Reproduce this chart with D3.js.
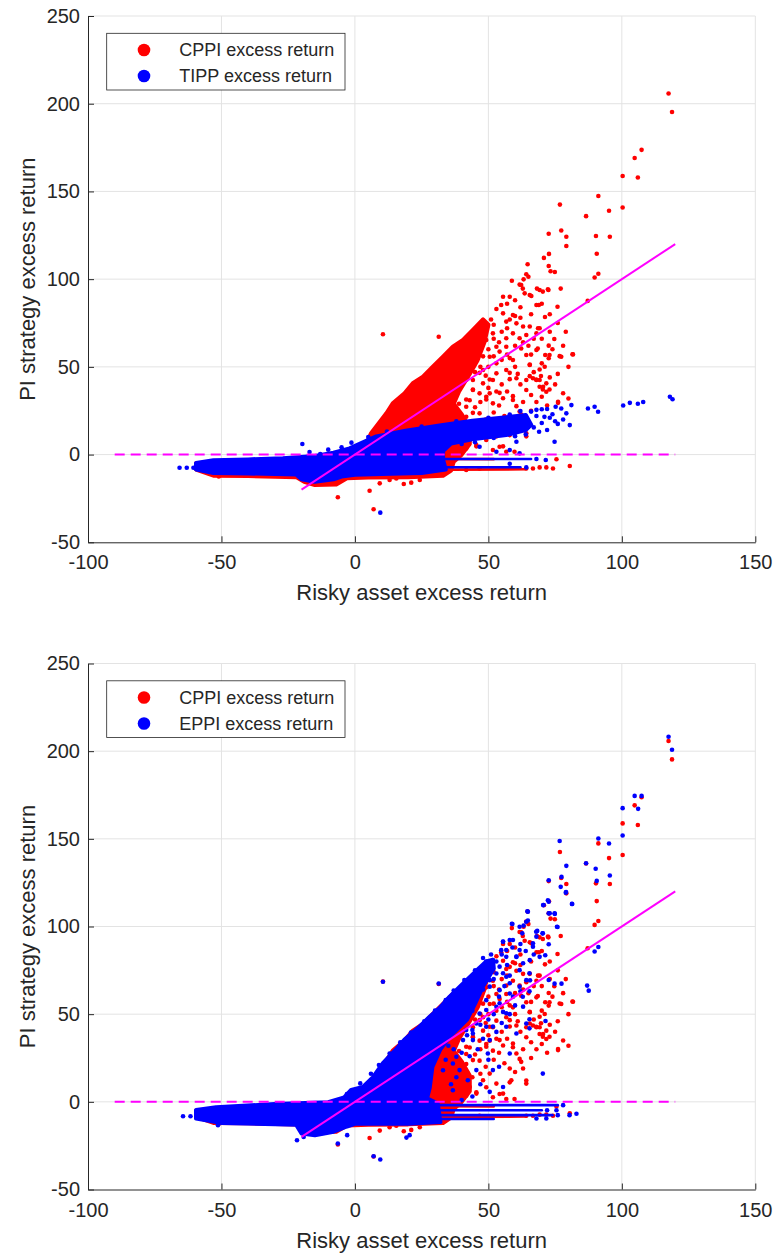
<!DOCTYPE html>
<html><head><meta charset="utf-8">
<script src="https://cdn.jsdelivr.net/npm/d3@7"></script>
<style>body{margin:0;background:#fff;} svg{display:block;font-family:"Liberation Sans",Arial,Helvetica,sans-serif;}</style>
</head><body><svg id="c" width="775" height="1253"></svg>
<script>
// ---------- axes / labels ----------
const xTicks=[-100,-50,0,50,100,150];
const yTicks=[-50,0,50,100,150,200,250];
const xLabel="Risky asset excess return";
const yLabel="PI strategy excess return";
const legend1=["CPPI excess return","TIPP excess return"];
const legend2=["CPPI excess return","EPPI excess return"];
const refLine=[[-20,-20],[120,120]];
const zeroLine=[[-90,0],[120,0]];

// ---------- CPPI (red, same data in both panels) ----------
// outline of the solid, fully overlapping part of the cloud
const cppiDense=[[
[-59.5,-5],[-45,-3.6],[-30,-3],[-15,-1.8],[-5,-0.5],[0,1],[4,5],[6,12],[11.8,23.5],[14.2,29.2],[18.6,34.9],[21.7,40.6],[25.5,44.4],[29.2,50.1],[33,55.8],[36.7,61.5],[40.5,65.3],[44.2,71],[48,77],[50,74],[48.5,64],[46,54],[43,46],[39,36],[37,29],[40,23],[43,15],[43,6],[40,0],[37,-4],[36,-9],[33,-12],[20,-12.8],[5,-13],[-3,-13.5],[-7,-17],[-15,-17.3],[-19,-15.5],[-22,-12.8],[-40,-12.2],[-53,-12],[-59.5,-8.5]
]];
// rows of touching dots
const cppiRows=[[[36,-8.6],[64,-8.4]],[[34,-2.5],[52,-2.6]]];
const cppiPoints=[
[117.5,205.8],[118.8,195.3],[107.4,173.7],[104.8,169.1],[106,157.9],[100.3,158.8],[100.3,140.8],[91.2,147.4],[95.2,139],[86.6,135.9],[76.8,142.5],[77.3,127.7],[79.2,124.2],[79.2,118.9],[72.6,125.9],[90.3,124.6],[95.5,124.2],[90.6,114.5],[91.2,103.1],[89.8,100.9],[70.8,112.1],[72.7,114.4],[72.6,107.5],[73.3,104.5],[74.9,104.1],[64.7,108.5],[65,101.4],[64.2,102.8],[58.8,99.1],[61.7,96.9],[63.2,99.9],[62.9,94.6],[68.2,94.6],[70.4,92.9],[72.5,93.8],[77.1,94.6],[66.1,90.4],[68.9,85.3],[75.9,84.3],[71.2,78.4],[87.2,87.6],[74.7,65.9],[72.6,62.1],[68.6,72],[68.5,60.4],[71.3,56.8],[72.6,54.9],[77.3,55.8],[81.5,57.2],[71.1,50.1],[69.7,44.8],[65.5,51.1],[60.5,43.5],
[62.3,96.7],[63.6,91.9],[65.5,91],[69.2,93.8],[72.3,94.2],[68,85.3],[55.5,90],[58,90],[54.8,85.3],[55.5,80.5],[59.2,79.6],[56.7,75.8],[60.5,74.8],[63,73],[65.5,73],[68,69.1],[69.2,72],[64.2,68.2],[61.7,66.3],[59.2,69.1],[56.7,66.3],[51.7,69.1],[53,61.5],[54.2,58.7],[56.7,61.5],[50.5,55.8],[53,52],[48,48.2],[53,46.3],[56.7,48.2],[59.2,53.9],[62.3,60.5],[64.2,56.8],[68,59.6],[72.9,56.8],[64.2,42.5],[66.7,43.5],[69.2,42.5],[64.2,36.8],[70.5,38.7],[48,40.6],[51.7,42.5],[44.2,42.5],[46.7,34.9],[50.5,34.9],[44.2,36.8],[41.7,42.5],[35.5,38.7],[37.4,34],[41.7,27.3],[49.2,33],[51.7,29.2],[55.5,32.1],[59.2,31.1],[61.7,24.5],[46.7,23.5],[41.7,21.6],[35.5,24.5],[43,50.1],[45.5,55.8],[46.7,61.5],[49.2,65.3],
[31.7,16.1],[34.2,12.3],[36.7,14.2],[40.5,19.9],[43,8.5],[45.5,4.7],[48,12.3],[50.5,16.1],[53,10.4],[55.5,4.7],[39.2,4.7],[35.5,6.6],[44.2,23.8],[49.2,31.4],[54.2,35.2],[59.2,33.3],[60.5,27.6],[62.3,22.8],[65.5,44.7],[67.9,42.8],[70.4,37.1],[72.9,37.1],[65.5,51.3],[69.2,48.5],[76.1,29.5],[76.7,56.1],[81.7,57.1],[58,46.6],[44.2,37.1],[41.7,31.4],[38,37.1],[46.7,46.6],[50.5,42.8],[58.6,12.3],[64.2,10.4],
[36.7,4.5],[41.7,3.5],[45.5,5.4],[51.7,2.6],[56.7,1.6],[59.8,1.6],[34.2,8.3],[39.9,6.4],[49.2,8.3],[54.2,4.5],[58,11.1],[64.2,12.1],[69.2,38.7],[71.7,35.8],[76.1,30.1],[71.7,40.6],[68,42.5],
[42,58],[44,62],[46,66],[47,50],[45,47],[49,45],[50,50],[52,56],[54,64],[55,70],[57,72],[52,74],[50,60],[48,56],[47,70],[51,77],[53,83],[57,86],[60,88],[62,84],[60,79],[58,77],[52,66],[55,54],[57,57],[60,50],[61,46],[58,43],[55,40],[53,36],[50,38],[47,30],[45,27],[43,31],[39,29],[38,24],[42,17],[44,14],[47,16],[49,20],[52,24],[54,28],[56,22],[58,19],[60,17],[63,19],[66,25],[68,30],[70,33],[72,28],[66,34],[63,30],[57,36],[62,40],[67,47],[70,52],[66,57],[63,64],[60,62],[58,55],[65,62],[67,66],[70,66],[73,70],[62,78],[66,80],[70,86],[73,80],[76,75],[79,70],[74,60],[78,62],[80,50],[76,46],[73,44],[75,40],[78,35],[80,32],
[10.5,68.6],[31.4,67.2],[-6.4,-24.3],[5.5,-20.6],[7,-31.2],[-51,-12.5],
[64.2,-7.9],[66.7,-7.9],[69.2,-7.3],[71.7,-7.3],[74.2,-7.9],[75.5,-2.7],[80.5,-6.5],[46.7,-7.9],[41.7,-8.8],
[9.3,-16.4],[13,-14.5],[15.5,-13.6],[18.3,-16.8],[21.1,-16],[24.3,-14.5]
];

// ---------- TIPP (blue, top panel) ----------
const tippDense=[[
[-59.5,-4.8],[-53,-3.3],[-40,-2.8],[-27,-2.1],[-15,-0.8],[-8,1],[-2,3.5],[3,7],[8,10.3],[19,13.5],[31.7,16.5],[44,19.3],[56.7,21.3],[64,22.5],[66,17],[64,14],[56.7,11.2],[44,8.8],[36,6.3],[33,2],[33,-3],[34,-8.5],[25,-10.5],[10,-11],[0,-11.5],[-5,-12.5],[-8,-14],[-15,-15.5],[-20,-14],[-22,-11.3],[-40,-10.7],[-53,-10.5],[-59.5,-8.5]
]];
const tippRows=[[[33,-2.5],[66,-2.5]],[[33,-7.2],[62,-7.2]]];
const tippPoints=[
[-65.7,-7.5],[-63,-7.5],[-60.5,-7.5],[-19.7,6],[-1.3,6.8],[9.5,-33.1],[-17,1.5],[-10,2.8],[-5,4.2],[-13,0.3],
[5,10],[12,13.2],[25,16],[38,19],[50,21],[58,22.8],[62,24.8],[66,24.5],[68,25.5],[70,25.8],[72,26],[68,22],[71,21.5],[73,21],[75,19],[70,18],[67,15.5],[72,14],[69,13],[40,6],[45,7],[52,9.5],[60,10.5],[64,11.5],
[74,23],[75.2,27.3],[77.3,26.3],[79.2,23.5],[81.1,28.2],[78,20],[76,17.5],[80.5,16.8],[74.8,7.3],[60.5,7.3],[58,2.6],[46.7,4.5],[53,1.6],[61.7,0.7],
[87.3,26.3],[89.8,27.3],[91.1,24.4],[100.5,28],[103,29.5],[106,29],[108,30],[118,33],[119,31.5],
[68,-2.5],[71.5,-3.1],[64.2,-7.3],[58,-5.2]
];

// ---------- EPPI (blue, bottom panel) ----------
const eppiDense=[[
[-59.5,-4.7],[-52,-3.2],[-30,-1.3],[-10,-0.3],[-4,2.5],[-1.4,6.8],[3,8.5],[6.8,14],[10.5,22],[15.5,30],[18.6,35.5],[23.6,42],[28,48.5],[31.7,53.5],[35.5,60],[39.2,65.5],[43,71],[46.7,76.5],[49.2,80],[51.7,81],[52,76],[48,66],[45,56],[42,47],[36,38],[32,30],[29,20],[28,8],[27,2],[31,-1],[32,-11.5],[20,-12.4],[10,-12.4],[0,-12.5],[-3,-14],[-8,-17],[-15,-19],[-20,-18],[-22,-13],[-50,-12],[-59.5,-9.5]
]];
const eppiRows=[[[31,-1.9],[76,-1.9]],[[31,-4.8],[70,-4.8]],[[31,-7.6],[74,-7.6]],[[31,-9.8],[52,-9.8]]];
const eppiPoints=[
[117.5,208.2],[118.8,200.8],[104.8,174.5],[107.4,174.5],[106.1,167.1],[100.3,167.5],[100.3,151.9],[91.2,150.2],[95.2,147.3],[86.6,136.1],[76.7,148.8],[95.5,129.1],[90.2,132.9],[90.6,126],[79.2,134.6],[77.4,128.3],[77.1,122.6],[79.1,119.7],[72.6,126.4],[81.3,112.9],[70.7,112.3],[72.3,115],[73,107.5],[74.9,107.2],[75.9,99.7],[64.6,108.7],[64.8,103.4],[58.8,101.6],[63.2,100.5],[70.3,96.1],[68.3,97.5],[91.2,88.3],[89.8,85.7],[87,66.3],[87.6,63.4],[72.6,89.9],[72.6,69.5],[74.8,67.4],[77.4,67.4],[71.3,83.6],[65.6,69.3],[65.4,63],[71.4,46.1],[65.4,47.1],
[55.5,91.4],[56.7,86.6],[59.2,92.3],[61.7,86.6],[66.7,88.5],[68,94.2],[49.2,80],[51.7,80.9],[54.2,77.1],[60.5,82.8],[63,79],[46.7,71.4],[55.5,73.3],[58,67.6],[61.7,65.7],[65.4,73.3],[50.5,65.7],[45.5,60],[54.2,56.2],[59.2,60],[63,54.3],[49.2,52.4],[56.7,50.5],[51.7,42.9],[65.4,41.9],[44.2,39],
[79,119.3],[81.4,112.8],[70.5,112.2],[72.6,114.1],[64.8,108.4],[72.6,107.5],[74.8,107.5],[75.7,99.9],[59,101.4],[61.7,99.9],[64.2,102.7],[62.7,96.1],[67.9,97],[70.4,96.1],[66.7,90.4],[55.5,91.3],[58,92.3],[54.8,86.5],[56.7,82.7],[60.5,82.7],[65.5,80.8],[69.2,82.7],[53,73.2],[56.7,71.3],[61.7,75.1],[64.2,69.4],[50.5,69.4],[54.2,63.7],[58,61.8],[62.9,59.9],[49.2,58],[53,54.2],[55.5,51.3],[46.7,50.4],[45.5,44.7],[49.2,42.8],[56.7,42.8],[60.5,39],[50.5,35.2],[53,39.9],[64.2,44.7],[39.2,18.1],[36.7,21.9],[38,25.7],[49.8,27.6],[51.7,18.1],[58,27.6],[70.4,16.1],[36.7,6.6],[42.3,12.3],[50.5,5.7],[55.5,8.5],[45.5,18.1],[40.5,35.2],[44.2,35.2],[41.7,40.9],
[44,52],[46,62],[48,64],[50,72],[52,70],[47,44],[50,47],[52,50],[54,60],[56,66],[58,72],[53,80],[55,84],[51,84],[48,82],[44,66],[42,58],[40,52],[38,46],[36,42],[34,40],[33,35],[35,32],[37,30],[40,28],[43,26],[46,30],[48,36],[44,41],[42,38],[55,45],[58,50],[60,55],[62,63],[57,78],[59,88],[62,90],[64,86],[67,84],[50,24],[54,20],[47,10],[44,3],[40,1],[33,18],[34,24],[36,10],[38,14],[30,33],[32,44],[26,42],
[2,10.5],[6,16],[9,21],[13,27.5],[17,34],[21,39.5],[26,46],[30,52],[34,58],[37,63.5],[41,69.5],[45,75],[-3,4.5],
[10.5,68.5],[31.4,67.5],[-21.7,-21.9],[-19.2,-20],[-2.9,-19],[7,-31],[9.5,-32.9],[19.3,-20.4],[20.5,-19],[-6.4,-23.8],[-51.3,-13.3],[-64.4,-8.2],[-61.6,-8.2],[-58.8,-8.2],[-57,-5.9],
[78,-1.9],[72,-4.8],[76,-7.6],[75.5,-4.8],[80.4,-7.6],[83,-6.8],[68,-9.5],[71.7,-9.5]
];

// ---------- drawing ----------
const svg=d3.select("#c");
const RED="#ff0000", BLUE="#0000ff", MAG="#ff00ff", INK="#262626", GRID="#e3e3e3";
const left=88, right=755.3;
const panels=[
 {top:16, bottom:542.3, dense:tippDense, rows:tippRows, pts:tippPoints, labels:legend1},
 {top:663.5, bottom:1189.5, dense:eppiDense, rows:eppiRows, pts:eppiPoints, labels:legend2}
];
panels.forEach(p=>{
  const x=d3.scaleLinear().domain([-100,150]).range([left,right]);
  const y=d3.scaleLinear().domain([-50,250]).range([p.bottom,p.top]);
  const g=svg.append("g");
  // grid
  g.append("g").selectAll("line").data(xTicks.filter(d=>d>-100)).join("line")
    .attr("x1",d=>x(d)).attr("x2",d=>x(d)).attr("y1",p.top).attr("y2",p.bottom)
    .attr("stroke",GRID).attr("stroke-width",1);
  g.append("g").selectAll("line").data(yTicks.filter(d=>d>-50)).join("line")
    .attr("y1",d=>y(d)).attr("y2",d=>y(d)).attr("x1",left).attr("x2",right)
    .attr("stroke",GRID).attr("stroke-width",1);
  const line=d3.line().x(d=>x(d[0])).y(d=>y(d[1]));
  const series=(dense,rows,pts,color)=>{
    const s=g.append("g");
    s.append("g").selectAll("path").data(dense).join("path")
      .attr("d",d=>line(d)+"Z").attr("fill",color).attr("stroke",color)
      .attr("stroke-width",4.2).attr("stroke-linejoin","round");
    s.append("g").selectAll("path").data(rows).join("path")
      .attr("d",line).attr("fill","none").attr("stroke",color)
      .attr("stroke-width",2.6).attr("stroke-linecap","round");
    s.append("g").selectAll("circle").data(pts).join("circle")
      .attr("cx",d=>x(d[0])).attr("cy",d=>y(d[1])).attr("r",2.3).attr("fill",color);
  };
  series(cppiDense,cppiRows,cppiPoints,RED);
  series(p.dense,p.rows,p.pts,BLUE);
  // reference lines
  g.append("path").attr("d",line(zeroLine)).attr("stroke",MAG).attr("stroke-width",2)
    .attr("stroke-dasharray","10,6").attr("fill","none");
  g.append("path").attr("d",line(refLine)).attr("stroke",MAG).attr("stroke-width",2).attr("fill","none");
  // axes
  const fmt=d=>String(d);
  const xa=g.append("g").attr("transform",`translate(0,${p.bottom})`)
    .call(d3.axisBottom(x).tickValues(xTicks).tickFormat(fmt).tickSizeInner(-6).tickSizeOuter(0).tickPadding(13));
  const ya=g.append("g").attr("transform",`translate(${left},0)`)
    .call(d3.axisLeft(y).tickValues(yTicks).tickFormat(fmt).tickSizeInner(-6).tickSizeOuter(0).tickPadding(8));
  [xa,ya].forEach(a=>{
    a.select(".domain").attr("stroke",INK);
    a.selectAll(".tick line").attr("stroke",INK);
    a.selectAll("text").attr("fill",INK).style("font-size","20px").style("font-family","'Liberation Sans',Arial,sans-serif");
  });
  g.append("text").attr("x",(left+right)/2).attr("y",p.bottom+58).attr("text-anchor","middle")
    .attr("fill",INK).style("font-size","22px").text(xLabel);
  g.append("text").attr("transform",`translate(27,${(p.top+p.bottom)/2}) rotate(-90)`)
    .attr("text-anchor","middle").attr("dy","0.35em").attr("fill",INK).style("font-size","22px").text(yLabel);
  // legend
  const lg=g.append("g").attr("transform",`translate(106.7,${p.top+17.3})`);
  lg.append("rect").attr("width",238.3).attr("height",56.7).attr("fill","#fff").attr("stroke",INK).attr("stroke-width",0.8);
  const cols=[RED,BLUE];
  p.labels.forEach((t,i)=>{
    lg.append("circle").attr("cx",37.3).attr("cy",16.7+i*26).attr("r",6.3).attr("fill",cols[i]);
    lg.append("text").attr("x",72.6).attr("y",16.7+i*26).attr("dy","0.35em").attr("fill",INK)
      .style("font-size","18px").text(t);
  });
});
</script></body></html>
